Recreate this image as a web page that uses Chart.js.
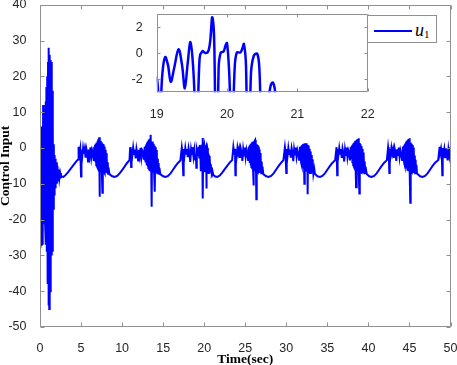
<!DOCTYPE html>
<html lang="en">
<head>
<meta charset="UTF-8">
<title>Control Input u1</title>
<style>
    body { margin: 0; background: #fff; }
    .plot { position: relative; width: 457px; height: 365px; overflow: hidden; }
    #mainChart { position: absolute; left: 0; top: 0; }
    #zoomChart { position: absolute; left: 125px; top: 6px; }
    .legend {
        position: absolute; left: 367px; top: 15px;
        width: 70px; height: 28px; box-sizing: border-box;
        border: 1px solid #909090; background: #fff;
    }
    .legend .swatch { position: absolute; left: 6px; top: 14px; width: 38px; height: 2px; background: #0000ff; }
    .legend .label {
        position: absolute; left: 47px; top: 4.6px;
        font: italic 18px/18px 'Liberation Serif', serif; color: #000; white-space: nowrap;
    }
    .legend sub { font-style: normal; font-size: 11px; line-height: 0; vertical-align: -1.6px; }
</style>
</head>
<body>
<div class="plot">
    <canvas id="mainChart" width="457" height="365"></canvas>
    <canvas id="zoomChart" width="252" height="112"></canvas>
    <div class="legend"><div class="swatch"></div><div class="label">u<sub>1</sub></div></div>
</div>

<script src="https://cdn.jsdelivr.net/npm/chart.js@4"></script>
<script>
// time (sec) and control input u1
const timeSec = [
    // start-up transient
    0, 0.03, 0.08, 0.13, 0.18, 0.23, 0.28, 0.33, 0.38, 0.43, 0.48, 0.53, 0.58, 0.63, 0.68, 0.73, 0.78, 0.83, 0.88, 0.93,
    0.98, 1.03, 1.08, 1.13, 1.18, 1.23, 1.28, 1.33, 1.38, 1.43, 1.48, 1.53, 1.58, 1.63, 1.68, 1.73, 1.78, 1.83, 1.88, 1.93,
    1.98, 2.05, 2.12, 2.20, 2.28, 2.36, 2.45, 2.55, 2.70, 2.85, 3.10, 3.40, 3.70, 4.00, 4.30, 4.55, 4.66,
    // cycle 1
    4.70, 4.80, 4.90, 5.00, 5.05, 5.15, 5.25, 5.35, 5.45, 5.55, 5.65, 5.75, 5.85, 5.95, 6.05, 6.15, 6.25, 6.35, 6.45, 6.55,
    6.60, 6.65, 6.70, 6.75, 6.80, 6.85, 6.90, 6.95, 7.00, 7.05, 7.10, 7.15, 7.20, 7.25, 7.30, 7.35, 7.40, 7.45, 7.50, 7.55,
    7.60, 7.65, 7.70, 7.75, 7.80, 7.85, 7.90, 7.95, 8.00, 8.05, 8.10, 8.15, 8.20, 8.25, 8.30, 8.35, 8.45,
    8.80, 9.10, 9.40, 9.70, 10.00, 10.30, 10.60, 10.90,
    // cycle 2
    10.98, 11.05, 11.10, 11.15, 11.25, 11.35, 11.45, 11.55, 11.65, 11.75, 11.85, 11.95, 12.05, 12.15, 12.25, 12.35, 12.45, 12.55, 12.65, 12.75,
    12.80, 12.85, 12.90, 12.95, 13.00, 13.05, 13.10, 13.15, 13.20, 13.25, 13.30, 13.35, 13.40, 13.45, 13.50, 13.55, 13.60, 13.65, 13.70, 13.75,
    13.80, 13.85, 13.90, 13.95, 14.00, 14.05, 14.10, 14.15, 14.20, 14.25, 14.30, 14.35, 14.40, 14.45, 14.50, 14.55, 14.65,
    15.00, 15.30, 15.60, 15.90, 16.20, 16.50, 16.80, 17.10,
    // cycle 3 (the zoomed part 19 - 21)
    17.27, 17.35, 17.45, 17.50, 17.60, 17.70, 17.80, 17.90, 18.00, 18.10, 18.20, 18.30, 18.40, 18.50, 18.60, 18.70, 18.80, 18.90,
    19.00, 19.04, 19.08, 19.12, 19.16, 19.20, 19.25, 19.31, 19.36, 19.40, 19.44, 19.48, 19.52, 19.57, 19.61, 19.65, 19.69, 19.73,
    19.76, 19.79, 19.82, 19.85, 19.88, 19.91, 19.95, 19.98, 20.00, 20.03, 20.07, 20.11, 20.14, 20.19, 20.22, 20.24, 20.27, 20.30,
    20.34, 20.38, 20.43, 20.46, 20.50, 20.57, 20.62, 20.65, 20.68, 20.72, 20.78, 20.82, 20.86, 20.90, 20.95, 21.02,
    21.10, 21.35, 21.60, 21.90, 22.20, 22.50, 22.80, 23.10, 23.40,
    // cycle 4
    23.55, 23.65, 23.75, 23.80, 23.85, 23.95, 24.05, 24.15, 24.25, 24.35, 24.45, 24.55, 24.65, 24.75, 24.85, 24.95, 25.05, 25.15, 25.25, 25.35,
    25.40, 25.45, 25.50, 25.55, 25.60, 25.65, 25.70, 25.75, 25.80, 25.85, 25.90, 25.95, 26.00, 26.05, 26.10, 26.15, 26.20, 26.25, 26.30, 26.35,
    26.40, 26.45, 26.50, 26.55, 26.60, 26.65, 26.70, 26.75, 26.80, 26.85, 26.90, 26.95, 27.00, 27.05, 27.10, 27.20,
    27.55, 27.85, 28.15, 28.45, 28.75, 29.05, 29.35, 29.65,
    // cycle 5
    29.83, 29.90, 30.00, 30.05, 30.15, 30.25, 30.35, 30.45, 30.55, 30.65, 30.75, 30.85, 30.95, 31.05, 31.15, 31.25, 31.35, 31.45, 31.55, 31.65,
    31.70, 31.75, 31.80, 31.85, 31.90, 31.95, 32.00, 32.05, 32.10, 32.15, 32.20, 32.25, 32.30, 32.35, 32.40, 32.45, 32.50, 32.55, 32.60, 32.65,
    32.70, 32.75, 32.80, 32.85, 32.90, 32.95, 33.00, 33.05, 33.10, 33.15, 33.20, 33.25, 33.30, 33.40, 33.50,
    33.80, 34.10, 34.40, 34.70, 35.00, 35.30, 35.60, 35.95,
    // cycle 6
    36.12, 36.20, 36.25, 36.35, 36.45, 36.55, 36.65, 36.75, 36.85, 36.95, 37.05, 37.15, 37.25, 37.35, 37.45, 37.55, 37.65, 37.75, 37.85, 37.95,
    38.00, 38.05, 38.10, 38.15, 38.20, 38.25, 38.30, 38.35, 38.40, 38.45, 38.50, 38.55, 38.60, 38.65, 38.70, 38.75, 38.80, 38.85, 38.90, 38.95,
    39.00, 39.05, 39.10, 39.15, 39.20, 39.25, 39.30, 39.35, 39.40, 39.45, 39.50, 39.55, 39.60, 39.65, 39.80,
    40.10, 40.40, 40.70, 41.00, 41.30, 41.60, 41.90, 42.25,
    // cycle 7
    42.40, 42.48, 42.55, 42.60, 42.70, 42.80, 42.90, 43.00, 43.10, 43.20, 43.30, 43.40, 43.50, 43.60, 43.70, 43.80, 43.90, 44.00, 44.10, 44.20,
    44.25, 44.30, 44.35, 44.40, 44.45, 44.50, 44.55, 44.60, 44.65, 44.70, 44.75, 44.80, 44.85, 44.90, 44.95, 45.00, 45.05, 45.10, 45.15, 45.20,
    45.25, 45.30, 45.35, 45.40, 45.45, 45.50, 45.55, 45.60, 45.65, 45.70, 45.75, 45.80, 45.85, 45.92, 46.00,
    46.30, 46.60, 46.90, 47.20, 47.50, 47.80, 48.10, 48.50,
    // cycle 8
    48.68, 48.75, 48.85, 48.95, 49.00, 49.05, 49.15, 49.25, 49.35, 49.45, 49.55, 49.65, 49.75, 49.85, 49.95, 50.00
];

const controlInput = [
    0, -28, 2, -27, 6, -25, 4, -27, 12, -20, 10, -21, 11, -22, 13, -27, 17, -29, 20, -38,
    24, -44, 28, -45, 26, -40, 24.5, -30, 24, -30, 16, -29, 4, -17, 1, -13, -2, -11, -3, -10,
    -4, -10, -5, -9, -6, -8.5, -7, -8.2, -8, -8.1, -7.6, -6.8, -5.9, -5.0, -4.1, -3.4, -3.2,

    0.3, -1.5, -0.2, -8, -0.4, -2.3, 0, -1.6, -0.3, -2.7, -0.2, -1.3, -3.8, -0.4, -2.1, 0.2, -2.5, -0.6, -1.4, -3.6,
    0.3, -3.2, 0.8, -4, 1.2, -4.8, 1.5, -5.2, 2, -5.6, 2.4, -6, 3, -13.6, 1.8, -6.2, 2, -6.5, 1.6, -6.3,
    -12.5, 1.2, -6.8, 1, -6.6, 0.4, -7, -0.5, -6.8, -1.5, -7, -2.8, -6.8, -4, -7.2, -5.5, -7.3,
    -7.9, -8.1, -7.8, -7.1, -6.2, -5.2, -4.2, -3.4,

    0.2, -1.2, -5.3, -0.3, -2, 0.1, -1.7, -0.4, -2.9, -0.2, -1.5, -3.5, -0.5, -2.2, 0, -2.6, -0.7, -1.2, -3.3, 0.3,
    -3.1, 0.6, -4, 1, -4.8, 1.5, -5.2, 1.9, -5.6, 2.3, -6, 2.6, -6.2, 3, 3.7, -6, -16.4, 1.8, -6.4, 1.5,
    -6.6, 1.2, -6.8, 0.6, -12.2, 0.2, -7, -0.6, -6.8, -1.8, -7.1, -3, -6.9, -4.2, -7.2, -5.6, -7.3,
    -7.9, -8.1, -7.8, -7.1, -6.1, -5.1, -4.2, -3.5,

    0.1, -1.4, -7.6, -0.3, -2.1, 0, -1.6, -0.3, -2.6, -0.1, -1.4, -3.9, -0.5, -2, 0.2, -2.4, -0.6, -3.2,
    -1.9, -5.5, -1.6, -0.3, -0.9, -2.2, -1.1, 0.3, -0.9, -2.7, -0.8, 0.85, -1.2, -6.5, -0.4, 0.15, 0.02, 0.1,
    0.9, 2.75, 0.4, -14.1, -1.2, 0.05, 0.12, 0.6, 0.77, -1.4, -6.8, -1, 0.05, 0.05, 0.4, 0.7, -1, -11.3,
    -1.6, -0.2, -0.05, -1.2, -7, -4.2, -2.5, -2.25, -2.8, -5, -6.8, -4.5, -6.9, -5.4, -7.2, -6.6,
    -7.5, -8, -8.1, -7.7, -6.9, -5.9, -5, -4.1, -3.4,

    0.2, -1.6, -0.2, -7.6, -0.4, -2.3, 0, -1.5, -0.3, -2.8, -0.2, -1.3, -3.6, -0.4, -2.1, 0.1, -2.5, -0.5, -1.6, -3.4,
    0.2, -3.3, 0.6, -4.2, 0.9, -4.9, 1.2, -5.3, 1.5, -5.7, 1.7, -6, -10.5, 1.9, -6.2, 2, 2.2, -6.4, 1.3, -14.3,
    1, -6.6, 0.8, -6.8, 0.4, -6.9, -0.4, -7, -1.4, -6.8, -2.6, -7.1, -3.8, -7, -5.2, -7.3,
    -7.9, -8.1, -7.8, -7.1, -6.1, -5.1, -4.2, -3.4,

    0.2, -1.3, -7, -0.3, -2.2, 0, -1.7, -0.4, -2.7, -0.1, -1.4, -3.7, -0.5, -2.1, 0.1, -2.4, -0.6, -1.5, -3.3, 0.3,
    -3.2, 0.4, -4.1, 0.7, -4.8, 0.9, -5.3, 1.1, -5.7, 1.2, -10, 1.3, -6.1, 1.1, -6.3, 1.3, -6.4, 0.9, -12.9, 0.7,
    -6.7, 0.4, -6.8, -0.2, -7, -1, -6.8, -2, -7.1, -3.2, -6.9, -4.4, -7.2, -5.8, -7.3,
    -7.9, -8.1, -7.8, -7.1, -6.1, -5.1, -4.2, -3.4,

    0.2, -7.6, -0.3, -1.9, 0, -1.6, -0.3, -2.8, -0.2, -1.4, -3.8, -0.5, -2.2, 0.1, -2.5, -0.6, -1.3, -3.5, 0.3, -2.8,
    0.7, -4, 1, -4.8, 1.4, -5.3, 1.7, -5.7, 2, -6, -11, 2.2, -6.2, 2.4, -6.3, 2.5, 2.7, -6.4, -12.7, 1.4,
    -6.6, 1, -6.8, 0.5, -6.9, -0.3, -7, -1.3, -6.8, -2.5, -7.1, -3.8, -7, -5.2, -7.3,
    -7.9, -8.1, -7.8, -7.1, -6.1, -5.1, -4.2, -3.4,

    0.2, -1.4, -7, -0.3, -2.1, 0, -1.6, -0.4, -2.8, -0.2, -1.4, -3.6, -0.4, -2.2, 0.1, -2.5, -0.6, -1.5, -3.4, 0.3,
    -3.2, 0.6, -4.1, 1, -4.8, 1.3, -5.3, 1.7, -5.7, 2, -6, 2.3, -6.2, 2.5, -6.3, 2.7, -6.4, -15.3, 1.5, -6.6,
    1.2, -6.8, 0.8, -6.9, 0.1, -7, -0.9, -6.8, -2.1, -7.1, -3.3, -7, -4.7, -7.2, -7.3,
    -7.9, -8.1, -7.8, -7.1, -6.1, -5.1, -4.2, -3.4,

    0.3, -1.5, -0.2, -2.2, -7.6, 0, -1.7, -0.3, -2.6, -0.1, -1.4, -3.5, -0.4, -2.1, 0.2, -1.6
];

const xTicksMain = [0, 5, 10, 15, 20, 25, 30, 35, 40, 45, 50];
const yTicksMain = [-50, -40, -30, -20, -10, 0, 10, 20, 30, 40];
const xTicksZoom = [19, 20, 21, 22];
const yTicksZoom = [-2, 0, 2];

const points = timeSec.map((t, i) => ({ x: t, y: controlInput[i] }));

const tickFont = { family: "'Liberation Sans', Arial, sans-serif", size: 12.5, lineHeight: 0.75 };
const titleFont = { family: "'Liberation Serif', 'Times New Roman', serif", size: 13.5, weight: 'bold', lineHeight: 0.8 };
const frameColor = '#909090';

// keep tick labels from shrinking the plot area (labels may overhang like in matlab)
function fixX(height) {
    return s => { s.height = height; s.paddingLeft = 0; s.paddingRight = 0; };
}
function fixY(width) {
    return s => { s.width = width; s.paddingTop = 0; s.paddingBottom = 0; };
}

// matlab-like box with inward ticks on all four sides
const frameTicks = {
    id: 'frameTicks',
    beforeDatasetsDraw(chart, args, opts) {
        if (!opts.fill) return;
        const a = chart.chartArea;
        chart.ctx.save();
        chart.ctx.fillStyle = opts.fill;
        chart.ctx.fillRect(a.left, a.top, a.right - a.left, a.bottom - a.top);
        chart.ctx.restore();
    },
    afterDatasetsDraw(chart, args, opts) {
        const { ctx, chartArea: a, scales } = chart;
        const len = opts.len || 4;
        const L = Math.round(a.left) + 0.5, R = Math.round(a.right) - 0.5;
        const T = Math.round(a.top) + 0.5, B = Math.round(a.bottom) - 0.5;
        ctx.save();
        ctx.strokeStyle = frameColor;
        ctx.lineWidth = 1;
        ctx.beginPath();
        scales.x.ticks.forEach(t => {
            const px = Math.round(scales.x.getPixelForValue(t.value)) + 0.5;
            ctx.moveTo(px, B); ctx.lineTo(px, B - len);
            ctx.moveTo(px, T); ctx.lineTo(px, T + len);
        });
        scales.y.ticks.forEach(t => {
            const py = Math.round(scales.y.getPixelForValue(t.value)) + 0.5;
            ctx.moveTo(L, py); ctx.lineTo(L + len, py);
            ctx.moveTo(R, py); ctx.lineTo(R - len, py);
        });
        ctx.rect(L, T, R - L, B - T);
        ctx.stroke();
        ctx.restore();
    }
};

Chart.defaults.animation = false;
Chart.defaults.color = '#262626';

new Chart(document.getElementById('mainChart'), {
    type: 'line',
    data: {
        datasets: [{
            label: 'u1',
            data: points,
            borderColor: '#0000ff',
            borderWidth: 2,
            pointRadius: 0,
            tension: 0,
            fill: false
        }]
    },
    options: {
        responsive: false,
        devicePixelRatio: 1,
        layout: { padding: { top: 4.7, right: 6.5, left: 0, bottom: 0 } },
        plugins: {
            legend: { display: false },
            tooltip: { enabled: false },
            frameTicks: { len: 4 }
        },
        scales: {
            x: {
                type: 'linear', min: 0, max: 50,
                afterBuildTicks: s => { s.ticks = xTicksMain.map(v => ({ value: v })); },
                afterFit: fixX(38),
                grid: { display: false },
                border: { display: false },
                ticks: { font: tickFont, padding: 9, maxRotation: 0, autoSkip: false },
                title: { display: true, text: 'Time(sec)', color: '#000', font: titleFont, padding: { top: 0, bottom: 0 } }
            },
            y: {
                type: 'linear', min: -50, max: 40,
                afterBuildTicks: s => { s.ticks = yTicksMain.map(v => ({ value: v })); },
                afterFit: fixY(40),
                grid: { display: false },
                border: { display: false },
                ticks: { font: tickFont, padding: 5.5, autoSkip: false },
                title: { display: true, text: 'Control Input', color: '#000', font: titleFont, padding: { top: 0, bottom: 0 } }
            }
        }
    },
    plugins: [frameTicks]
});

new Chart(document.getElementById('zoomChart'), {
    type: 'line',
    data: {
        datasets: [{
            label: 'u1',
            data: points,
            borderColor: '#0000ff',
            borderWidth: 2.5,
            pointRadius: 0,
            tension: 0.35,
            fill: false
        }]
    },
    options: {
        responsive: false,
        devicePixelRatio: 1,
        layout: { padding: { top: 8, right: 9.3, left: 0, bottom: 0 } },
        plugins: {
            legend: { display: false },
            tooltip: { enabled: false },
            frameTicks: { len: 3, fill: '#ffffff' }
        },
        scales: {
            x: {
                type: 'linear', min: 19, max: 22,
                afterBuildTicks: s => { s.ticks = xTicksZoom.map(v => ({ value: v })); },
                afterFit: fixX(25.7),
                grid: { display: false },
                border: { display: false },
                ticks: { font: tickFont, padding: 9.7, maxRotation: 0, autoSkip: false }
            },
            y: {
                type: 'linear', min: -3, max: 3,
                afterBuildTicks: s => { s.ticks = yTicksZoom.map(v => ({ value: v })); },
                afterFit: fixY(31.7),
                grid: { display: false },
                border: { display: false },
                ticks: { font: tickFont, padding: 6, autoSkip: false }
            }
        }
    },
    plugins: [frameTicks]
});
</script>
</body>
</html>
